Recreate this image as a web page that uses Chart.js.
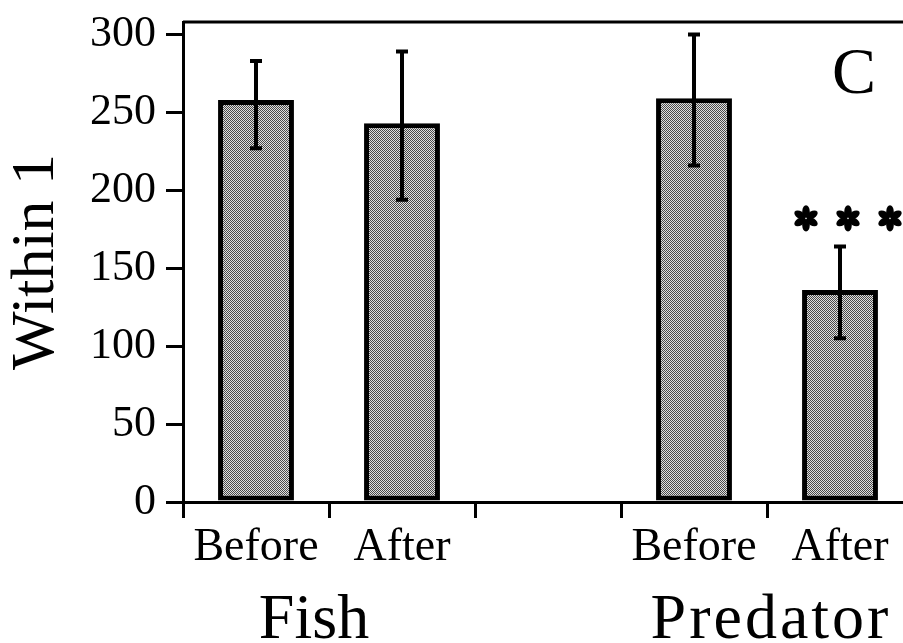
<!DOCTYPE html>
<html>
<head>
<meta charset="utf-8">
<script src="https://cdn.jsdelivr.net/npm/chart.js@4.4.1/dist/chart.umd.min.js"></script>
<style>
  html, body { margin: 0; padding: 0; background: #fff; overflow: hidden; }
  #wrap { width: 930px; height: 643px; }
</style>
</head>
<body>
<div id="wrap"><canvas id="chart"></canvas></div>
<script>
// Fish before/after, empty slot, Predator before/after
const categories = ['Before', 'After', '', 'Before', 'After'];
const means = [258, 243, null, 259, 136];
const errLow = [227, 194, null, 216, 105];
const errHigh = [283, 289, null, 300, 164];
const groups = ['Fish', 'Predator'];
const groupMembers = [[0, 1], [3, 4]];
const yTicks = [0, 50, 100, 150, 200, 250, 300];
const yMax = 308;
const sigIndex = 4;
const serif = '"Liberation Serif", "Times New Roman", serif';

// stippled grey fill like the scan
function stipple() {
  const c = document.createElement('canvas');
  c.width = 2; c.height = 2;
  const g = c.getContext('2d');
  g.fillStyle = '#e0e0e0';
  g.fillRect(0, 0, 2, 2);
  g.fillStyle = '#4a4a4a';
  g.fillRect(0, 0, 1, 1);
  g.fillRect(1, 1, 1, 1);
  return g.createPattern(c, 'repeat');
}

function drawStar(ctx, cx, cy, r) {
  for (let k = 0; k < 6; k++) {
    const a = k * Math.PI / 3 + Math.PI / 2;
    ctx.beginPath();
    ctx.ellipse(cx + Math.cos(a) * r * 0.55, cy + Math.sin(a) * r * 0.55, r * 0.5, r * 0.3, a, 0, 2 * Math.PI);
    ctx.fill();
  }
}

const extras = {
  id: 'extras',
  afterDatasetsDraw(chart) {
    const ctx = chart.ctx;
    const x = chart.scales.x, y = chart.scales.y;
    const area = chart.chartArea;
    ctx.save();
    ctx.strokeStyle = '#000';
    ctx.fillStyle = '#000';

    // top frame line
    ctx.lineWidth = 3;
    ctx.beginPath();
    ctx.moveTo(area.left, area.top);
    ctx.lineTo(area.right, area.top);
    ctx.stroke();

    // error bars
    chart.getDatasetMeta(0).data.forEach((bar, i) => {
      if (means[i] == null) return;
      const top = y.getPixelForValue(errHigh[i]);
      const bot = y.getPixelForValue(errLow[i]);
      ctx.lineWidth = 4;
      ctx.beginPath();
      ctx.moveTo(bar.x, top); ctx.lineTo(bar.x, bot);
      ctx.moveTo(bar.x - 6, top); ctx.lineTo(bar.x + 6, top);
      ctx.moveTo(bar.x - 6, bot); ctx.lineTo(bar.x + 6, bot);
      ctx.stroke();
    });

    // significance stars
    const sx = x.getPixelForValue(sigIndex);
    const sy = y.getPixelForValue(182);
    [-34, 8, 50].forEach(dx => drawStar(ctx, sx + dx, sy, 12.5));

    // panel letter
    ctx.font = '66px ' + serif;
    ctx.textAlign = 'center';
    ctx.textBaseline = 'alphabetic';
    ctx.fillText('C', area.right - 59, 93);

    // group labels under the tick labels
    ctx.font = '64px ' + serif;
    const shifts = [-15, 4];
    groups.forEach((name, g) => {
      const m = groupMembers[g];
      const cx = (x.getPixelForValue(m[0]) + x.getPixelForValue(m[1])) / 2 + shifts[g];
      ctx.letterSpacing = g === 1 ? '3px' : '0px';
      ctx.fillText(name, cx, 638);
    });
    ctx.restore();
  }
};

new Chart(document.getElementById('chart'), {
  type: 'bar',
  data: {
    labels: categories,
    datasets: [{
      data: means,
      backgroundColor: stipple(),
      borderColor: '#000',
      borderWidth: 5,
      borderSkipped: false,
      categoryPercentage: 1,
      barPercentage: 0.52
    }]
  },
  options: {
    responsive: true,
    maintainAspectRatio: false,
    animation: false,
    layout: { padding: { left: 0, right: 17, top: 22, bottom: 0 } },
    plugins: { legend: { display: false }, tooltip: { enabled: false } },
    scales: {
      x: {
        grid: { display: true, drawOnChartArea: false, offset: true, tickLength: 16, lineWidth: 3, color: '#000' },
        border: { display: true, width: 3, color: '#000' },
        ticks: { color: '#000', font: { family: serif, size: 46 }, padding: 2, maxRotation: 0, autoSkip: false },
        afterFit(s) { s.height = 141; s.paddingLeft = 0; s.paddingRight = 0; }
      },
      y: {
        min: 0,
        max: yMax,
        afterBuildTicks(s) { s.ticks = yTicks.map(v => ({ value: v })); },
        grid: { display: true, drawOnChartArea: false, tickLength: 17, lineWidth: 3, color: '#000' },
        border: { display: true, width: 3, color: '#000' },
        ticks: { color: '#000', font: { family: serif, size: 44 }, padding: 10 },
        title: { display: true, text: 'Within 1', color: '#000', font: { family: serif, size: 62 }, padding: 0 },
        afterFit(s) { s.width = 183; s.paddingTop = 0; s.paddingBottom = 0; }
      }
    }
  },
  plugins: [extras]
});
</script>
</body>
</html>
